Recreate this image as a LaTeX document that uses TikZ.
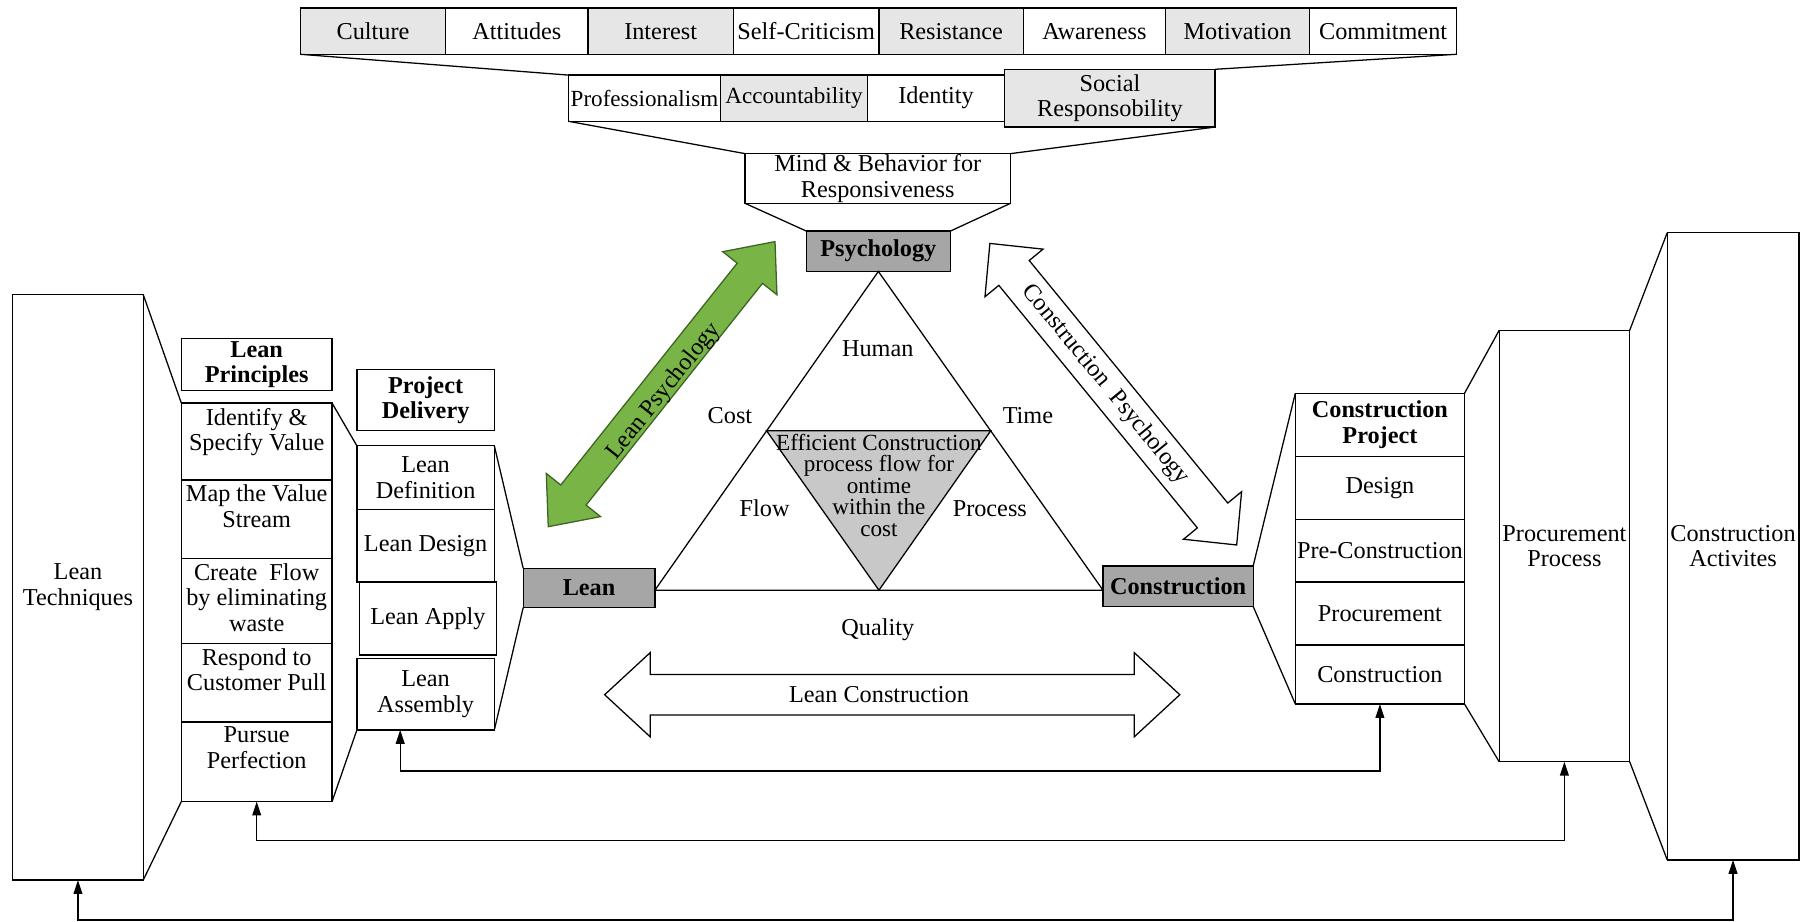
\documentclass[tikz,border=0pt]{standalone}
\usepackage{fontspec}
\setmainfont{Liberation Serif}
\usetikzlibrary{calc,arrows.meta}

\definecolor{lightcell}{RGB}{230,230,230}
\definecolor{midgray}{RGB}{166,166,166}
\definecolor{coregray}{RGB}{200,200,200}
\definecolor{leangreen}{RGB}{120,180,70}
\definecolor{leangreenedge}{RGB}{60,100,35}

\tikzset{
  base/.style={line width=0.55pt},
  cell/.style={draw, base, inner sep=0pt, outer sep=0pt, align=center,
    font=\fontsize{10.5}{11}\selectfont},
  shaded/.style={fill=lightcell},
  hub/.style={fill=midgray, font=\fontsize{10.5}{11}\selectfont\bfseries},
  head/.style={font=\fontsize{10.5}{11}\selectfont\bfseries},
  label/.style={inner sep=0pt, align=center, font=\fontsize{10.5}{11}\selectfont},
  link/.style={draw, base},
  feedback/.style={draw, base,
    {Triangle[length=6pt,width=3.8pt]}-{Triangle[length=6pt,width=3.8pt]}},
  greenarrow/.style={base, draw=leangreenedge, fill=leangreen},
  whitearrow/.style={base, draw=black, fill=white},
}

% box from (x1,y1) to (x2,y2): name, x1, y1, x2, y2, extra style, text
\newcommand{\cellbox}[7]{%
  \pgfmathsetmacro{\bxw}{abs(#4-#2)*0.5}%
  \pgfmathsetmacro{\bxh}{abs(#5-#3)*0.5}%
  \node[cell,#6,minimum width=\bxw pt,minimum height=\bxh pt] (#1)
    at ({(#2+#4)/2},{(#3+#5)/2}) {#7};}

% double-headed block arrow: cx, cy, angle, length, head length, head width, shaft width, style
\newcommand{\fatarrow}[8]{%
  \begin{scope}[shift={(#1,#2)}, rotate=#3]
    \path[#8] ({-#4/2},0) -- ({-#4/2+#5},{#6/2}) -- ({-#4/2+#5},{#7/2})
      -- ({#4/2-#5},{#7/2}) -- ({#4/2-#5},{#6/2}) -- ({#4/2},0)
      -- ({#4/2-#5},{-#6/2}) -- ({#4/2-#5},{-#7/2}) -- ({-#4/2+#5},{-#7/2})
      -- ({-#4/2+#5},{-#6/2}) -- cycle;
  \end{scope}}

\begin{document}
\begin{tikzpicture}[x=0.5pt,y=-0.5pt]
\useasboundingbox (0,0) rectangle (1568,798);
\fill[white] (0,0) rectangle (1568,798);

% ---------- top funnel: attributes of mind and behaviour ----------
\cellbox{culture}{260}{7}{386}{47}{shaded}{Culture}
\cellbox{attitudes}{386}{7}{509}{47}{}{Attitudes}
\cellbox{interest}{509}{7}{635}{47}{shaded}{Interest}
\cellbox{selfcrit}{635}{7}{761}{47}{}{Self-Criticism}
\cellbox{resistance}{761}{7}{886}{47}{shaded}{Resistance}
\cellbox{awareness}{886}{7}{1009}{47}{}{Awareness}
\cellbox{motivation}{1009}{7}{1134}{47}{shaded}{Motivation}
\cellbox{commitment}{1134}{7}{1261}{47}{}{Commitment}

\cellbox{prof}{492}{65}{624}{105}{font=\fontsize{10}{11}\selectfont}{Professionalism}
\cellbox{account}{624}{65}{751}{105}{shaded,font=\fontsize{10}{11}\selectfont}{Accountability}
\cellbox{identity}{751}{65}{870}{105}{}{Identity}
\cellbox{social}{870}{60}{1052}{110}{shaded}{Social\\Responsobility}

\cellbox{mind}{645}{133}{875}{176}{}{Mind \& Behavior for\\Responsiveness}
\cellbox{psy}{698}{200}{823}{235}{hub}{Psychology}

\draw[link] (culture.south west) -- (prof.north west);
\draw[link] (commitment.south east) -- (social.north east);
\draw[link] (prof.south west) -- (mind.north west);
\draw[link] (social.south east) -- (mind.north east);
\draw[link] (mind.south west) -- (psy.north west);
\draw[link] (mind.south east) -- (psy.north east);

% ---------- hubs and central triangle ----------
\cellbox{lean}{453}{492}{567}{526}{hub}{Lean}
\cellbox{cons}{955}{490}{1085}{525}{hub}{Construction}

\coordinate (bl) at (567,511);
\coordinate (br) at (955,511);
\draw[base] (psy.south) -- (bl) -- (br) -- cycle;
\coordinate (m1) at ($(psy.south)!0.5!(bl)$);
\coordinate (m2) at ($(psy.south)!0.5!(br)$);
\coordinate (m3) at ($(bl)!0.5!(br)$);
\draw[base, fill=coregray] (m1) -- (m2) -- (m3) -- cycle;
\node[label, font=\fontsize{10}{9.3}\selectfont] (core) at (761,420)
  {Efficient Construction\\process flow for\\ontime\\within the\\cost};

\node[label] (human) at (760,302) {Human};
\node[label] (cost) at (632,360) {Cost};
\node[label] (time) at (890,360) {Time};
\node[label] (flow) at (662,440) {Flow};
\node[label] (process) at (857,440) {Process};
\node[label] (quality) at (760,545) {Quality};

% ---------- block arrows ----------
\fatarrow{572.85}{332.6}{51.5}{315.4}{35}{60}{28}{greenarrow}
\node[label, rotate=51.5] (leanpsy) at (575,339) {Lean Psychology};

\fatarrow{963.9}{341.3}{-50.7}{337.4}{33}{65}{34}{whitearrow}
\node[label, rotate=-50.7] (conspsy) at (957,333) {Construction\ \ Psychology};

\fatarrow{772.5}{601.5}{0}{498}{39.5}{73}{35}{whitearrow}
\node[label] (leancons) at (761,601.5) {Lean Construction};

% ---------- left side: lean ----------
\cellbox{tech}{11}{255}{124}{762}{}{Lean\\Techniques}

\cellbox{lph}{157}{293}{287.5}{338}{head}{Lean\\Principles}
\cellbox{p1}{157}{349}{287.5}{415.5}{}{}
\cellbox{p2}{157}{415.5}{287.5}{483.5}{}{}
\cellbox{p3}{157}{483.5}{287.5}{557}{}{}
\cellbox{p4}{157}{557}{287.5}{625}{}{}
\cellbox{p5}{157}{625}{287.5}{694}{}{}
\node[label, anchor=north] (p1t) at ($(p1.north)+(0,4)$) {Identify \&\\Specify Value};
\node[label, anchor=north] (p2t) at ($(p2.north)+(0,4)$) {Map the Value\\Stream};
\node[label, anchor=north] (p3t) at ($(p3.north)+(0,4)$) {Create\ \ Flow\\by eliminating\\waste};
\node[label, anchor=north] (p4t) at ($(p4.north)+(0,4)$) {Respond to\\Customer Pull};
\node[label, anchor=north] (p5t) at ($(p5.north)+(0,4)$) {Pursue\\Perfection};

\cellbox{pdh}{309}{320}{428}{373}{head}{Project\\Delivery}
\cellbox{d1}{309}{386}{428}{441}{}{Lean\\Definition}
\cellbox{d2}{309}{441}{428}{504}{}{Lean Design}
\cellbox{d3}{311}{504}{430}{567}{}{Lean Apply}
\cellbox{d4}{309}{570}{428}{632}{}{Lean\\Assembly}

\draw[link] (tech.north east) -- (p1.north west);
\draw[link] (tech.south east) -- (p5.south west);
\draw[link] (p1.north east) -- (d1.north west);
\draw[link] (p5.south east) -- (d4.south west);
\draw[link] (d1.north east) -- (lean.north west);
\draw[link] (d4.south east) -- (lean.south west);

% ---------- right side: construction ----------
\cellbox{c0}{1121.5}{340.5}{1268}{395}{head}{Construction\\Project}
\cellbox{c1}{1121.5}{395}{1268}{449.5}{}{Design}
\cellbox{c2}{1121.5}{449.5}{1268}{504}{}{Pre-Construction}
\cellbox{c3}{1121.5}{504}{1268}{558.5}{}{Procurement}
\cellbox{c4}{1121.5}{558.5}{1268}{609.5}{}{Construction}

\cellbox{pp}{1298}{286}{1411}{659.5}{}{Procurement\\Process}
\cellbox{ca}{1443.5}{201.5}{1557.5}{744.5}{}{Construction\\Activites}

\draw[link] (cons.north east) -- (c0.north west);
\draw[link] (cons.south east) -- (c4.south west);
\draw[link] (c0.north east) -- (pp.north west);
\draw[link] (c4.south east) -- (pp.south west);
\draw[link] (pp.north east) -- (ca.north west);
\draw[link] (pp.south east) -- (ca.south west);

% ---------- feedback loops ----------
\draw[feedback] ([xshift=-11pt]d4.south) |- ($(c4.south)+(0,58)$) -- (c4.south);
\draw[feedback] (p5.south) |- ($(pp.south)+(0,68.5)$) -- (pp.south);
\draw[feedback] (tech.south) |- ($(ca.south)+(0,52)$) -- (ca.south);

\end{tikzpicture}
\end{document}
